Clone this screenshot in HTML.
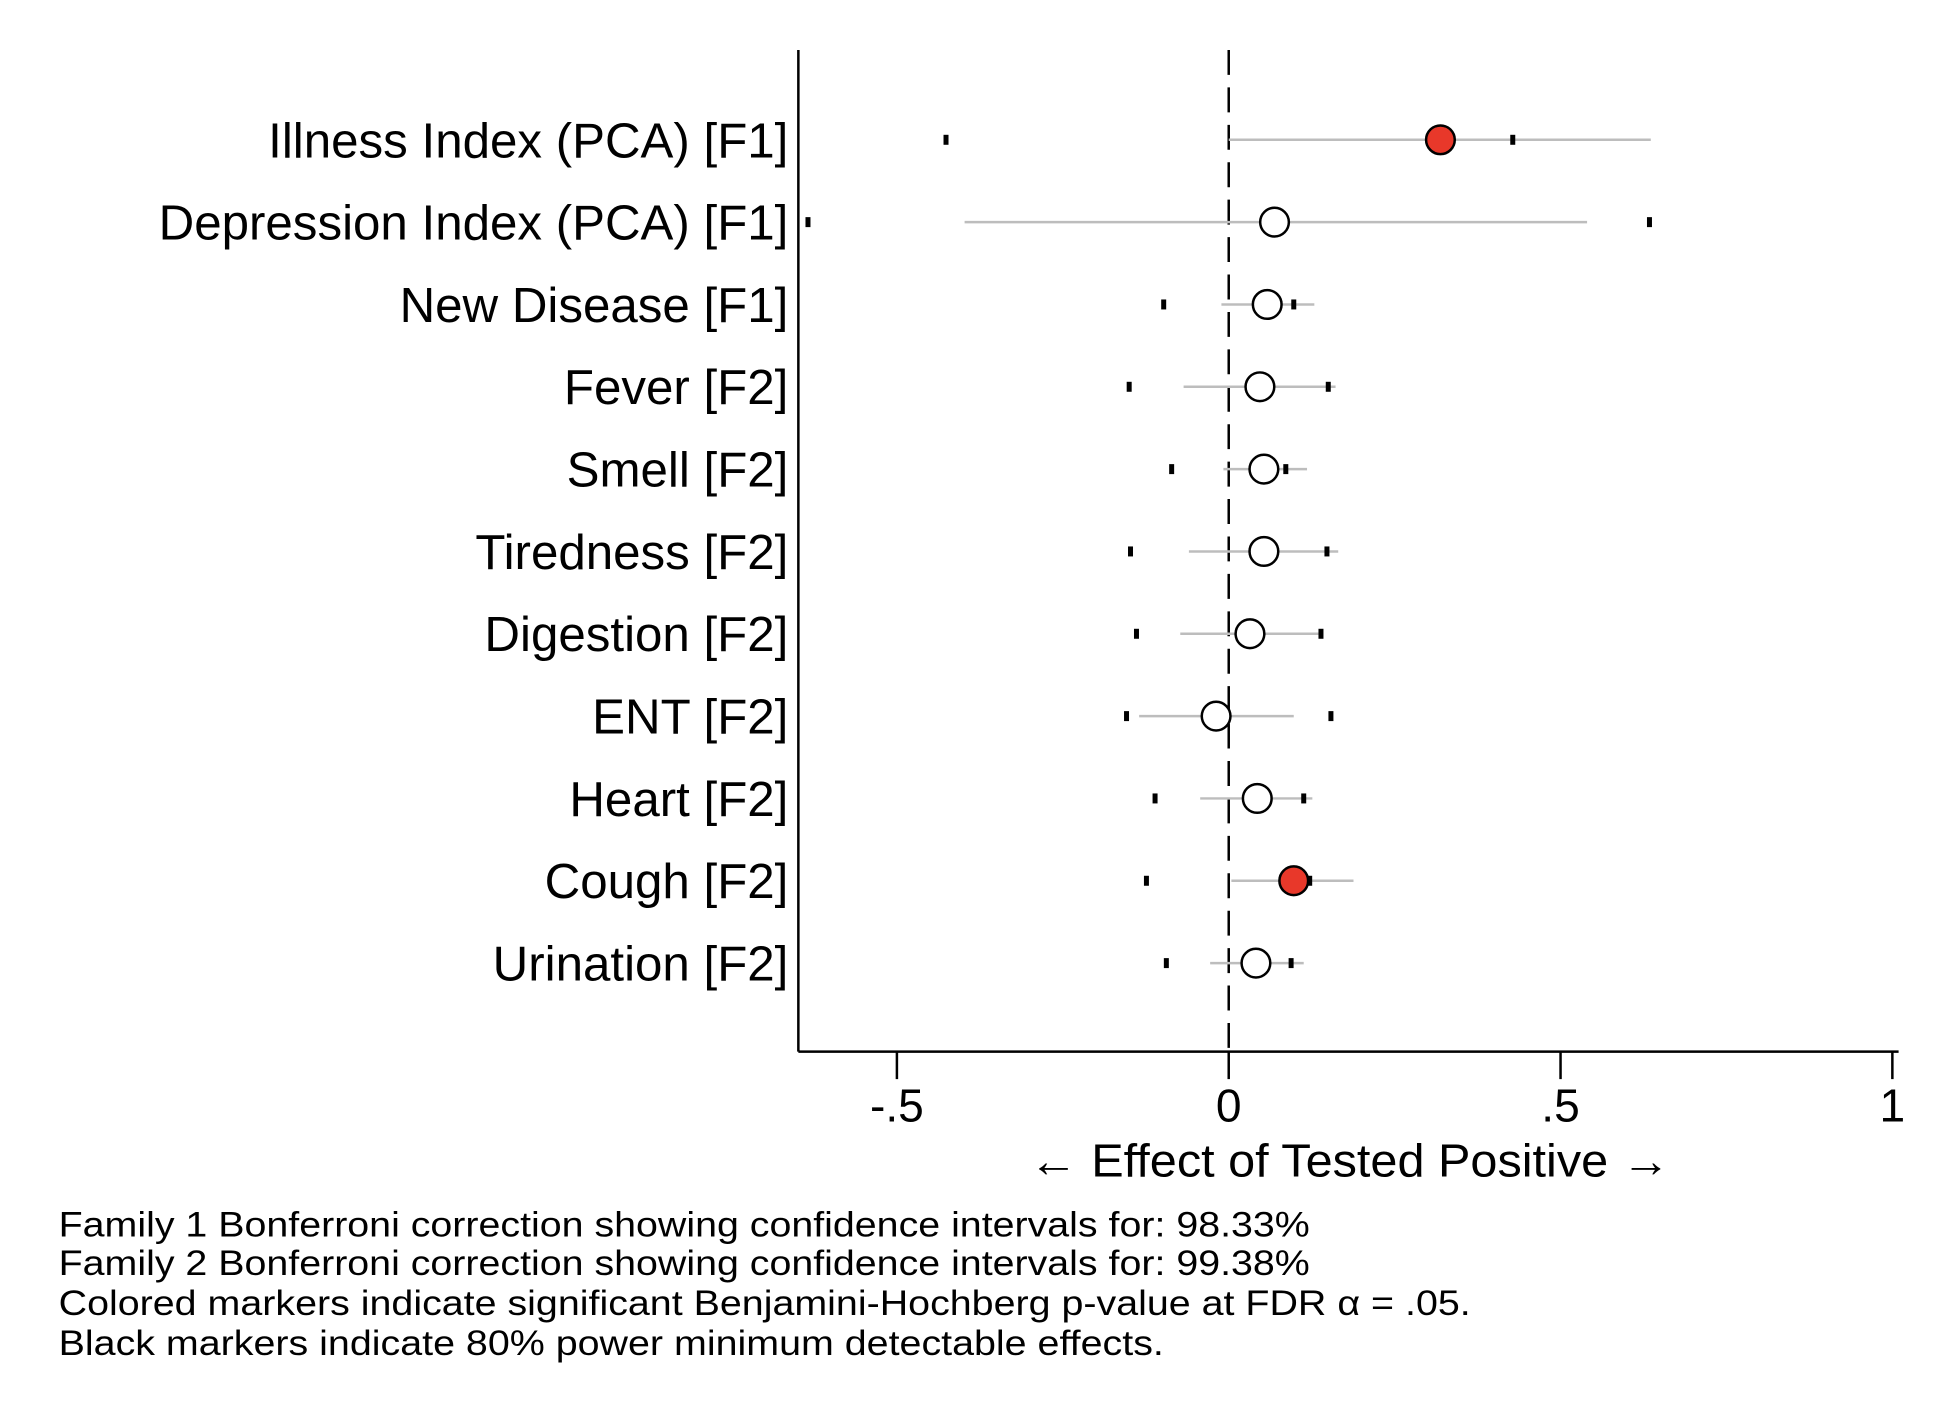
<!DOCTYPE html>
<html><head><meta charset="utf-8"><style>
html,body{margin:0;padding:0;background:#fff;}
svg{display:block;font-family:"Liberation Sans",Arial,sans-serif;}
</style></head><body>
<svg id="chart" width="1946" height="1416" viewBox="0 0 1560 1135" xmlns="http://www.w3.org/2000/svg">
<rect width="1560" height="1135" fill="#fff"/>
<g id="plot"></g>
<text x="825" y="943" font-size="37" textLength="514" lengthAdjust="spacingAndGlyphs">← Effect of Tested Positive →</text>
<g font-size="28">
<text x="47" y="991" textLength="1003" lengthAdjust="spacingAndGlyphs">Family 1 Bonferroni correction showing confidence intervals for: 98.33%</text>
<text x="47" y="1022" textLength="1003" lengthAdjust="spacingAndGlyphs">Family 2 Bonferroni correction showing confidence intervals for: 99.38%</text>
<text x="47" y="1054" textLength="1132" lengthAdjust="spacingAndGlyphs">Colored markers indicate significant Benjamini-Hochberg p-value at FDR α = .05.</text>
<text x="47" y="1086" textLength="886" lengthAdjust="spacingAndGlyphs">Black markers indicate 80% power minimum detectable effects.</text>
</g>
</svg>
<script>
const categories = ["Illness Index (PCA) [F1]","Depression Index (PCA) [F1]","New Disease [F1]","Fever [F2]","Smell [F2]","Tiredness [F2]","Digestion [F2]","ENT [F2]","Heart [F2]","Cough [F2]","Urination [F2]"];
const estimates = [0.319,0.069,0.058,0.047,0.053,0.053,0.032,-0.019,0.043,0.098,0.041];
const ciLow = [0.0,-0.398,-0.011,-0.068,-0.008,-0.060,-0.073,-0.135,-0.043,0.004,-0.028];
const ciHigh = [0.636,0.540,0.129,0.161,0.118,0.165,0.137,0.098,0.126,0.188,0.113];
const mdeLow = [-0.426,-0.634,-0.098,-0.150,-0.086,-0.148,-0.139,-0.154,-0.111,-0.124,-0.094];
const mdeHigh = [0.428,0.634,0.098,0.150,0.086,0.148,0.139,0.154,0.113,0.122,0.094];
const significant = [true,false,false,false,false,false,false,false,false,true,false];
const xTicks = [-0.5,0,0.5,1];
const xTickLabels = ["-.5","0",".5","1"];

const NS="http://www.w3.org/2000/svg";
const plotG=document.getElementById('plot');
const X0=985, XU=532, axLeft=640, axRight=1522, axTop=40, axBottom=843;
const xs=v=>X0+v*XU;
const ys=i=>112+i*66;
function mk(t,a){const el=document.createElementNS(NS,t);for(const k in a)el.setAttribute(k,a[k]);plotG.appendChild(el);return el;}

let ax=mk('line',{x1:axLeft,y1:axTop,x2:axLeft,y2:axBottom,stroke:'#000','stroke-width':2});


ax=mk('line',{x1:axLeft,y1:axBottom,x2:axRight,y2:axBottom,stroke:'#000','stroke-width':2});


ax=mk('line',{x1:xs(0),y1:axTop,x2:xs(0),y2:axBottom,stroke:'#000','stroke-width':2,'stroke-dasharray':'20 10'});



xTicks.forEach((v,i)=>{
  const t=mk('line',{x1:xs(v),y1:axBottom,x2:xs(v),y2:axBottom+22,stroke:'#000','stroke-width':2});
  
  
  const l=mk('text',{x:xs(v),y:899,'font-size':37,'text-anchor':'middle'});
  l.textContent=xTickLabels[i];
  
  
});

categories.forEach((c,i)=>{
  const y=ys(i);
  const l=mk('text',{x:632,y:y+14,'font-size':39.5,'text-anchor':'end'});
  l.textContent=c;
  
  
  const ci=mk('line',{x1:xs(ciLow[i]),y1:y,x2:xs(ciHigh[i]),y2:y,stroke:'#bdbdbd','stroke-width':2});
  
  
  [mdeLow[i],mdeHigh[i]].forEach(v=>{
    const m=mk('rect',{x:xs(v)-2,y:y-4,width:4,height:8,fill:'#000'});
    
    
  });
  const p=mk('circle',{cx:xs(estimates[i]),cy:y,r:11.5,fill:significant[i]?'#e8382a':'#fff',stroke:'#000','stroke-width':2});
  
  
});
</script>
</body></html>
